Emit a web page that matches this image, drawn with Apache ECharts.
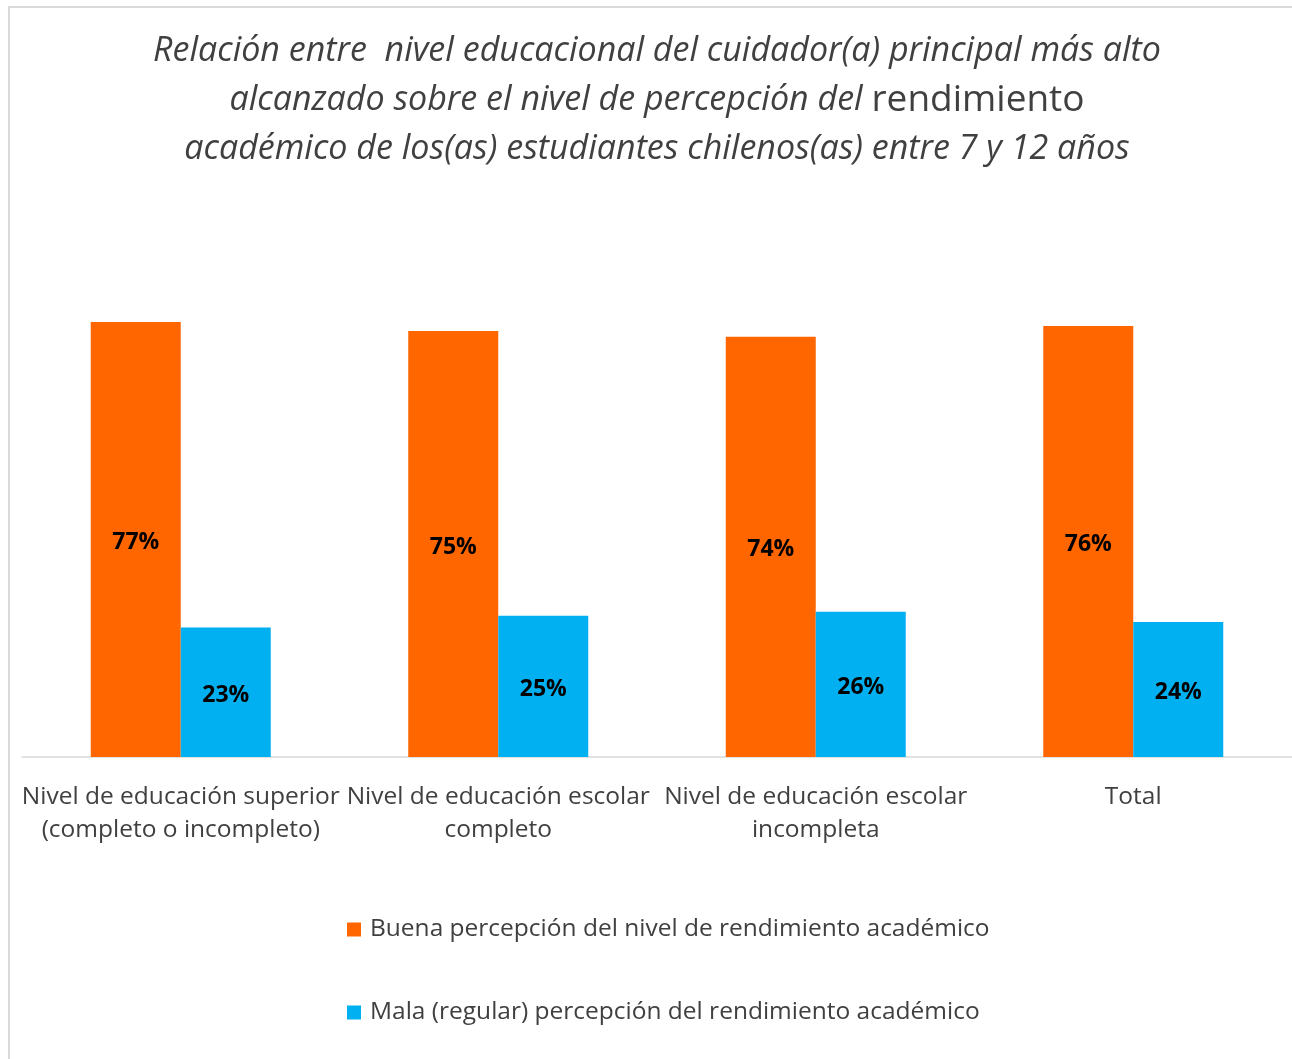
<!DOCTYPE html>
<html>
<head>
<meta charset="utf-8">
<script src="https://cdn.jsdelivr.net/npm/echarts@6/dist/echarts.min.js"></script>
<style>html,body{margin:0;padding:0;background:#fff}#c{width:1292px;height:1059px}</style>
</head>
<body>
<div id="c"></div>
<script>
const categories = [
  'Nivel de educación superior\n(completo o incompleto)',
  'Nivel de educación escolar\ncompleto',
  'Nivel de educación escolar\nincompleta',
  'Total'
];
const seriesNames = [
  'Buena percepción del nivel de rendimiento académico',
  'Mala (regular) percepción del rendimiento académico'
];
const buena = [77.0, 75.4, 74.4, 76.3];
const mala = [22.9, 25.0, 25.7, 23.9];

const chart = echarts.init(document.getElementById('c'));
const FONT = '"Open Sans", "Noto Sans", sans-serif';
const labelCfg = {
  show: true, position: 'inside', offset: [0, 3],
  formatter: p => Math.round(p.value) + '%',
  fontFamily: FONT, fontWeight: 'bold', fontSize: 23, color: '#000'
};
chart.setOption({
  animation: false,
  backgroundColor: '#fff',
  graphic: [{
    type: 'rect', shape: { x: 9, y: 7, width: 1400, height: 1200 },
    style: { fill: 'none', stroke: '#d9d9d9', lineWidth: 2 }, silent: true
  }],
  title: {
    left: 657, textAlign: 'center', top: 27, padding: 0,
    text: '{i|Relación entre  nivel educacional del cuidador(a) principal más alto}\n{i|alcanzado sobre el nivel de percepción del }{n|rendimiento}\n{i|académico de los(as) estudiantes chilenos(as) entre 7 y 12 años}',
    textStyle: {
      fontWeight: 'normal',
      rich: {
        i: { fontFamily: FONT, fontStyle: 'italic', fontWeight: 'normal', fontSize: 34, color: '#404040', lineHeight: 49 },
        n: { fontFamily: FONT, fontStyle: 'normal', fontWeight: 'normal', fontSize: 37, color: '#404040', lineHeight: 49 }
      }
    }
  },
  legend: {
    orient: 'vertical', left: 347, top: 917, itemGap: 58, padding: 0,
    itemWidth: 14, itemHeight: 14, icon: 'rect',
    textStyle: { fontFamily: FONT, fontSize: 24.5, color: '#404040', padding: [0, 0, 0, 4] },
    data: seriesNames
  },
  grid: { left: 22, right: 0, top: 192, bottom: 302, containLabel: false },
  xAxis: {
    type: 'category', data: categories,
    axisLine: { lineStyle: { color: '#d9d9d9', width: 1.5 } },
    axisTick: { show: false },
    axisLabel: { fontFamily: FONT, fontSize: 24.5, color: '#404040', lineHeight: 33, margin: 24, interval: 0 }
  },
  yAxis: {
    type: 'value', min: 0, max: 100, show: false,
    splitLine: { show: false }
  },
  series: [
    { name: seriesNames[0], type: 'bar', data: buena, barWidth: 90, barGap: '0%',
      itemStyle: { color: '#FF6600' }, label: labelCfg },
    { name: seriesNames[1], type: 'bar', data: mala, barWidth: 90, barGap: '0%',
      itemStyle: { color: '#00B0F0' }, label: labelCfg }
  ]
});
</script>
</body>
</html>
